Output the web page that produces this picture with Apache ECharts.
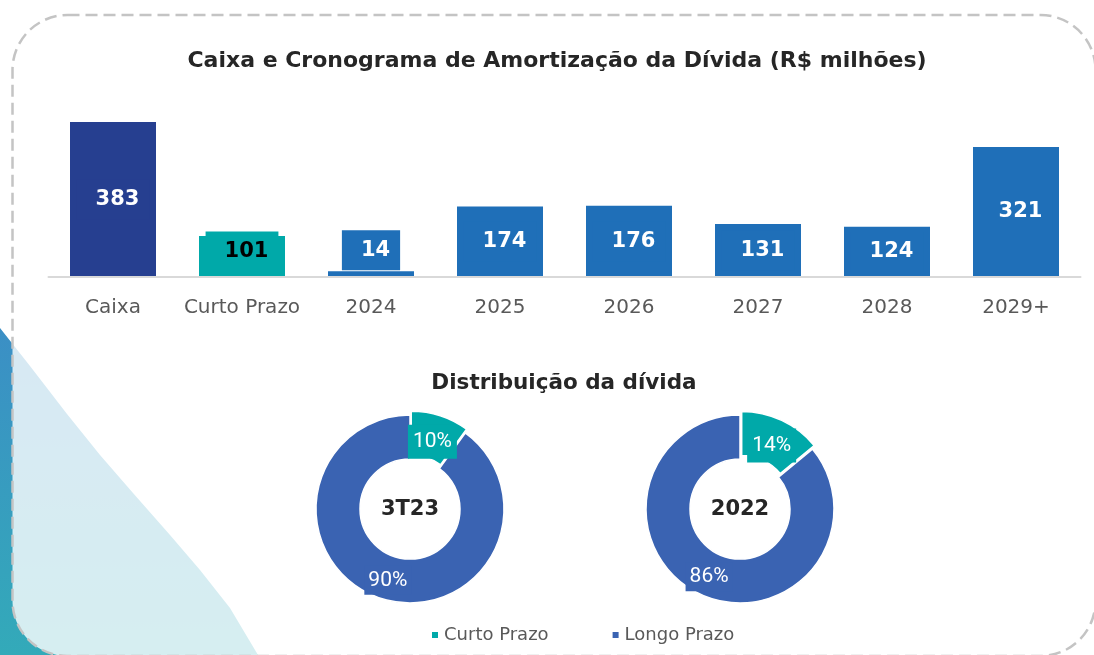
<!DOCTYPE html>
<html><head><meta charset="utf-8">
<script src="https://cdn.jsdelivr.net/npm/echarts@6/dist/echarts.min.js"></script>
<style>html,body{margin:0;padding:0;background:#fff}#c{width:1094px;height:655px}</style>
</head><body><div id="c"></div>
<script>
// ---- data ----
const categories = ['Caixa', 'Curto Prazo', '2024', '2025', '2026', '2027', '2028', '2029+'];
const amortValues = [383, 101, 14, 174, 176, 131, 124, 321];
const donutPeriods = ['3T23', '2022'];
const curtoPrazoPct = [10, 14];
const longoPrazoPct = [90, 86];
const legendNames = ['Curto Prazo', 'Longo Prazo'];
const mainTitle = 'Caixa e Cronograma de Amortização da Dívida (R$ milhões)';
const donutTitle = 'Distribuição da dívida';

// ---- styles ----
const NAVY = '#263f90', TEAL = '#00a9a9', BLUE = '#1f6fb8', DONUT_BLUE = '#3a63b2';
const FONT = 'DejaVu Sans';

function barColor(i) { return i === 0 ? NAVY : (i === 1 ? TEAL : BLUE); }

const barData = amortValues.map((v, i) => {
  const c = barColor(i);
  const label = { backgroundColor: c };
  if (i === 1) { label.color = '#000'; label.offset = [0, -5]; }
  if (v < 40) { label.position = 'top'; label.distance = 1; }
  return { value: v, itemStyle: { color: c }, label };
});

const donutCenters = [[410, 509], [740, 509]];
const pieSeries = donutPeriods.map((p, k) => ({
  type: 'pie',
  name: p,
  z: 5,
  center: donutCenters[k],
  radius: [50, 94],
  startAngle: 90,
  clockwise: true,
  avoidLabelOverlap: false,
  selectedMode: 'single',
  selectedOffset: 4,
  silent: true,
  itemStyle: { borderColor: '#fff', borderWidth: 1.5 },
  label: {
    show: true, position: 'inside', formatter: '{c}%',
    color: '#fff', fontFamily: 'Roboto', fontSize: 21, padding: [4, 4]
  },
  labelLine: { show: false },
  labelLayout: function (params) {
    return params.dataIndex === 0 ? { dx: -2, dy: 8 } : { dx: 1, dy: 0 };
  },
  emphasis: { disabled: true },
  data: [
    { name: legendNames[0], value: curtoPrazoPct[k], selected: true,
      itemStyle: { color: TEAL }, label: { backgroundColor: TEAL, padding: [7, 5, 6, 5] } },
    { name: legendNames[1], value: longoPrazoPct[k],
      itemStyle: { color: DONUT_BLUE }, label: { backgroundColor: DONUT_BLUE } }
  ]
}));

const chart = echarts.init(document.getElementById('c'), null, { renderer: 'canvas' });
chart.setOption({
  animation: false,
  backgroundColor: '#fff',
  graphic: [
    { type: 'polygon', z: 0, silent: true,
      shape: { points: [[0, 328], [30, 366], [67, 414], [100, 455], [133, 493], [170, 535], [200, 570], [230, 608], [258, 655], [0, 655]] },
      style: { fill: new echarts.graphic.LinearGradient(0, 0, 0, 1, [
        { offset: 0, color: '#3b8fc5' }, { offset: 1, color: '#33aab9' }]) } },
    { type: 'rect', z: 1, silent: true,
      shape: { x: 12.5, y: 15, width: 1083, height: 641, r: 55 },
      style: { fill: 'rgba(255,255,255,0.8)', stroke: '#c4c4c4', lineWidth: 2.5, lineDash: [12, 6] } },
    { type: 'text', z: 5, silent: true, x: 557, y: 61,
      style: { text: mainTitle, font: 'bold 22px "DejaVu Sans"', fill: '#262626', align: 'center', verticalAlign: 'middle' } },
    { type: 'text', z: 5, silent: true, x: 564, y: 383,
      style: { text: donutTitle, font: 'bold 21.5px "DejaVu Sans"', fill: '#262626', align: 'center', verticalAlign: 'middle' } },
    { type: 'text', z: 6, silent: true, x: donutCenters[0][0], y: donutCenters[0][1] + 1,
      style: { text: donutPeriods[0], font: 'bold 21px "DejaVu Sans"', fill: '#262626', align: 'center', verticalAlign: 'middle' } },
    { type: 'text', z: 6, silent: true, x: donutCenters[1][0], y: donutCenters[1][1] + 1,
      style: { text: donutPeriods[1], font: 'bold 21px "DejaVu Sans"', fill: '#262626', align: 'center', verticalAlign: 'middle' } }
  ],
  legend: {
    data: legendNames,
    left: 425, top: 621, z: 10,
    icon: 'rect', itemWidth: 8, itemHeight: 8, itemGap: 62,
    selectedMode: false,
    textStyle: { fontFamily: FONT, fontSize: 18, color: '#595959' }
  },
  grid: { left: 48.5, right: 13.5, top: 115, bottom: 378, containLabel: false },
  xAxis: {
    type: 'category', data: categories, z: 10,
    axisLine: { lineStyle: { color: '#d9d9d9', width: 2 } },
    axisTick: { show: false },
    axisLabel: { interval: 0, fontFamily: FONT, fontSize: 20, color: '#595959', margin: 21 }
  },
  yAxis: { type: 'value', min: 0, max: 400, show: false, splitLine: { show: false } },
  series: [
    { type: 'bar', barWidth: 86, silent: true, z: 5, data: barData,
      label: { show: true, position: 'inside', fontFamily: FONT, fontWeight: 'bold', fontSize: 21,
        color: '#fff', lineHeight: 24, padding: [8, 10, 8, 19] } }
  ].concat(pieSeries)
});
</script></body></html>
